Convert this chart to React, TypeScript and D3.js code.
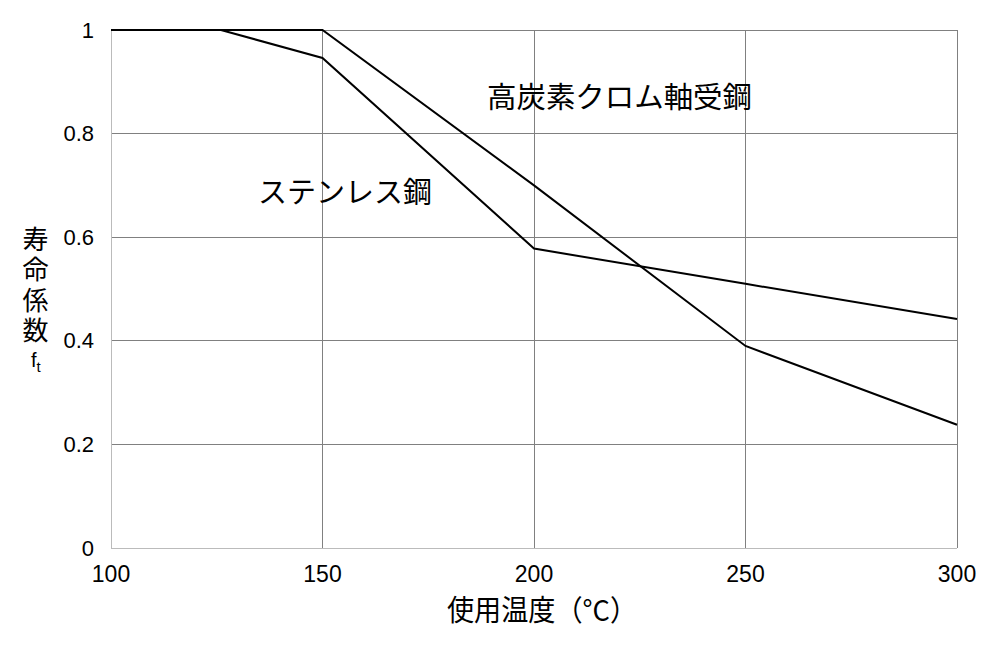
import React from "react";
import * as d3 from "d3";

const chromeTemps = [100, 150, 200, 250, 300];
const chromeValues = [1, 1, 0.7, 0.39, 0.238];
const stainlessTemps = [100, 126, 150, 200, 250, 300];
const stainlessValues = [1, 1, 0.946, 0.578, 0.51, 0.442];
const xTicks = [100, 150, 200, 250, 300];
const yTicks = [0, 0.2, 0.4, 0.6, 0.8, 1];
const yTickLabels = ["0", "0.2", "0.4", "0.6", "0.8", "1"];
const chromeLabel = "高炭素クロム軸受鋼";
const stainlessLabel = "ステンレス鋼";
const yLabel = "寿命係数";
const xLabel = "使用温度（°C）";

export default function App() {
  const W = 1000, H = 658;
  const x = d3.scaleLinear().domain([100, 300]).range([111, 957]);
  const y = d3.scaleLinear().domain([0, 1]).range([548, 30]);
  const line = d3.line<[number, number]>().x(d => x(d[0])).y(d => y(d[1]));
  const chrome = chromeTemps.map((t, i) => [t, chromeValues[i]] as [number, number]);
  const stainless = stainlessTemps.map((t, i) => [t, stainlessValues[i]] as [number, number]);
  const font = "'Liberation Sans', Arial, Helvetica, sans-serif";
  const jfont = "'Noto Sans CJK JP', 'Liberation Sans', sans-serif";
  return (
    <svg width={W} height={H} style={{ position: "absolute", left: 0, top: 0 }}>
      <rect x={0} y={0} width={W} height={H} fill="#fff" />
      {yTicks.map(v => (
        <line key={"h" + v} x1={x(100)} x2={x(300)} y1={y(v)} y2={y(v)}
          stroke={v === 0 ? "#bbbbbb" : "#808080"} strokeWidth={1} shapeRendering="crispEdges" />
      ))}
      {xTicks.map(v => (
        <line key={"v" + v} x1={x(v)} x2={x(v)} y1={y(0)} y2={y(1)}
          stroke={v === 100 ? "#bbbbbb" : "#808080"} strokeWidth={1} shapeRendering="crispEdges" />
      ))}
      <path d={line(chrome) || ""} fill="none" stroke="#000" strokeWidth={2} />
      <path d={line(stainless) || ""} fill="none" stroke="#000" strokeWidth={2} />
      {xTicks.map(v => (
        <text key={"xt" + v} x={x(v)} y={582} textAnchor="middle" fontSize={23} fontFamily={font} fill="#000">{v}</text>
      ))}
      {yTicks.map((v, i) => (
        <text key={"yt" + v} x={94} y={y(v) + 7.5} textAnchor="end" fontSize={22} fontFamily={font} fill="#000">{yTickLabels[i]}</text>
      ))}
      <text x={35.5} y={226} fontSize={26} fontFamily={jfont} fill="#000"
        style={{ writingMode: "vertical-rl", letterSpacing: "4.5px" }}>{yLabel}</text>
      <text x={31} y={367} fontSize={20} fontFamily={font} fill="#000">
        f<tspan fontSize={15} dy={5}>t</tspan>
      </text>
      <text x={447} y={621} fontSize={29} fontFamily={jfont} fill="#000" textLength={190} lengthAdjust="spacingAndGlyphs">{xLabel}</text>
      <text x={487} y={108} fontSize={29} fontFamily={jfont} fill="#000" textLength={265} lengthAdjust="spacingAndGlyphs">{chromeLabel}</text>
      <text x={258} y={203} fontSize={29} fontFamily={jfont} fill="#000" textLength={174} lengthAdjust="spacingAndGlyphs">{stainlessLabel}</text>
    </svg>
  );
}
